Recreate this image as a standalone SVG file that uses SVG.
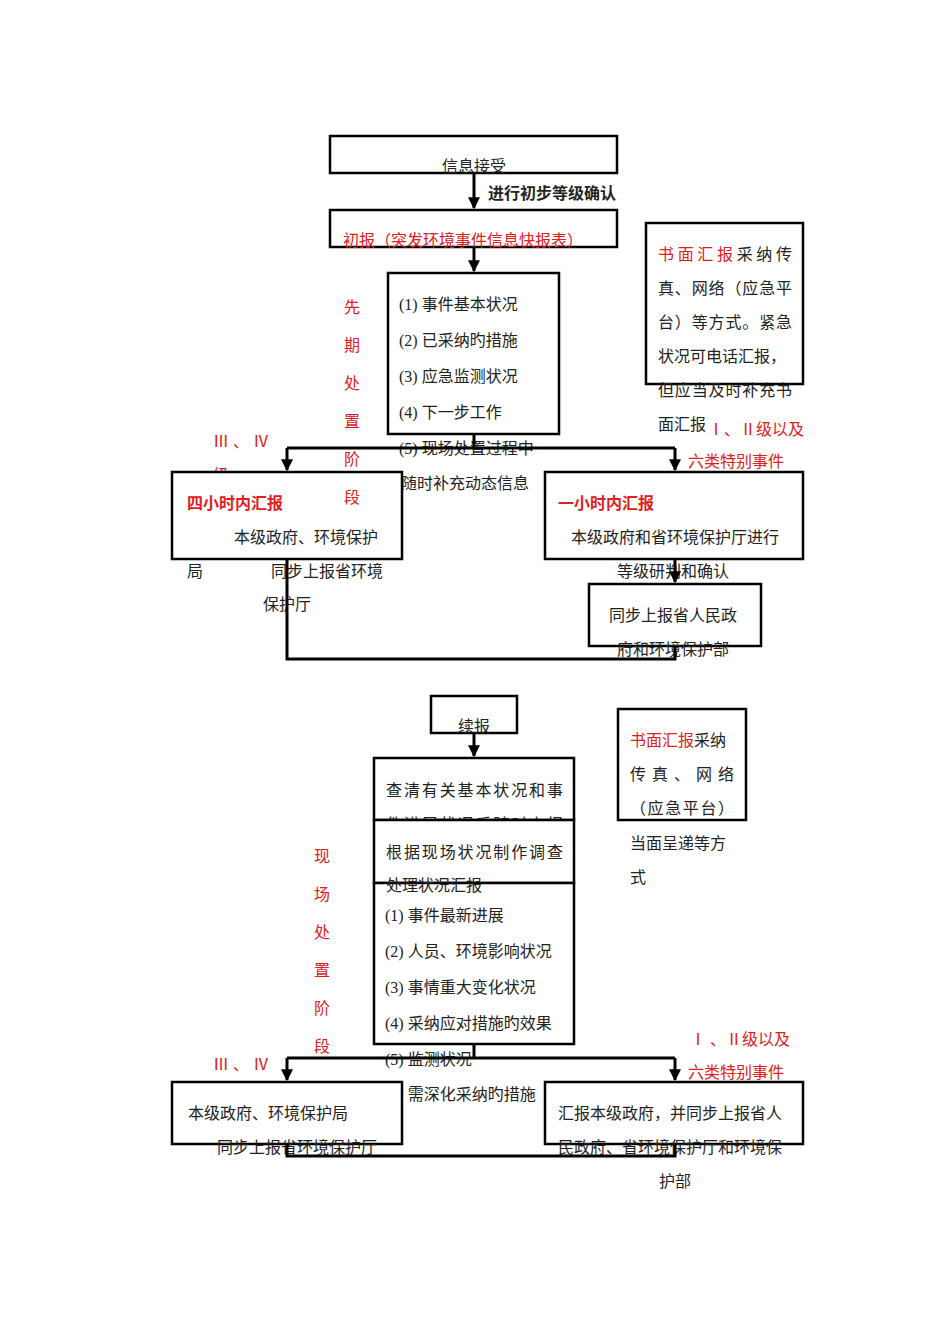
<svg xmlns="http://www.w3.org/2000/svg" width="950" height="1344" viewBox="0 0 950 1344">
<style>
text{font-family:"Liberation Serif","Noto Sans CJK SC",serif;font-size:16px;fill:#222}
.r{fill:#e02020}
.b{font-weight:bold}
rect{fill:#fff;stroke:#000;stroke-width:2.5}
.c{fill:none;stroke:#000;stroke-width:3}
</style>
<defs><marker id="a" viewBox="0 0 10 10" refX="9" refY="5" markerWidth="4" markerHeight="4" orient="auto"><path d="M0,0L10,5L0,10z" fill="#000"/></marker></defs>
<rect x="0" y="0" width="950" height="1344" style="stroke:none"/>
<g id="n1"><rect x="330" y="136" width="287" height="37"/><text x="474" y="172" text-anchor="middle">信息接受</text></g>
<g id="n2"><rect x="330" y="210" width="287" height="37"/><text x="343" y="246" class="r">初报（突发环境事件信息快报表）</text></g>
<g id="n3"><rect x="388" y="273" width="171" height="161"/>
<text x="399" y="310">(1) 事件基本状况</text><text x="399" y="346">(2) 已采纳旳措施</text><text x="399" y="382">(3) 应急监测状况</text><text x="399" y="418">(4) 下一步工作</text><text x="399" y="454">(5) 现场处置过程中</text><text x="401" y="489">随时补充动态信息</text></g>
<g id="n4"><rect x="646" y="223" width="157" height="161"/>
<text x="658" y="260" textLength="134"><tspan class="r">书面汇报</tspan>采纳传</text><text x="658" y="294" textLength="134">真、网络（应急平</text><text x="658" y="328" textLength="134">台）等方式。紧急</text><text x="658" y="362">状况可电话汇报，</text><text x="658" y="396" textLength="134">但应当及时补充书</text><text x="658" y="430">面汇报</text>
<text x="708" y="435" class="r">Ⅰ、Ⅱ级以及</text><text x="688" y="467" class="r">六类特别事件</text></g>
<text x="213" y="447" class="r">Ⅲ 、 Ⅳ</text><text x="213" y="481" class="r">级</text>
<g id="n5"><rect x="172" y="472" width="230" height="87"/><text x="187" y="509" class="r b">四小时内汇报</text><text x="234" y="543">本级政府、环境保护</text><text x="187" y="577">局</text><text x="271" y="577">同步上报省环境</text><text x="263" y="610">保护厅</text></g>
<g id="s1"><text x="352" y="313" class="r" text-anchor="middle">先</text><text x="352" y="351" class="r" text-anchor="middle">期</text><text x="352" y="389" class="r" text-anchor="middle">处</text><text x="352" y="427" class="r" text-anchor="middle">置</text><text x="352" y="465" class="r" text-anchor="middle">阶</text><text x="352" y="503" class="r" text-anchor="middle">段</text></g>
<g id="n6"><rect x="545" y="472" width="258" height="87"/><text x="558" y="509" class="r b">一小时内汇报</text><text x="571" y="543">本级政府和省环境保护厅进行</text><text x="617" y="577">等级研判和确认</text></g>
<g id="n7"><rect x="589" y="584" width="172" height="62"/><text x="609" y="621">同步上报省人民政</text><text x="617" y="655">府和环境保护部</text></g>
<g id="n8"><rect x="431" y="696" width="86" height="37"/><text x="474" y="732" text-anchor="middle">续报</text></g>
<g id="n9"><rect x="374" y="758" width="200" height="62"/><text x="386" y="796" textLength="177">查清有关基本状况和事</text><text x="386" y="830" textLength="177">件进展状况后随时上报</text></g>
<g id="n10"><rect x="374" y="820" width="200" height="63"/><text x="386" y="858" textLength="177">根据现场状况制作调查</text></g>
<g id="n11"><rect x="374" y="883" width="200" height="161"/><text x="386" y="891">处理状况汇报</text>
<text x="385" y="921">(1) 事件最新进展</text><text x="385" y="957">(2) 人员、环境影响状况</text><text x="385" y="993">(3) 事情重大变化状况</text><text x="385" y="1029">(4) 采纳应对措施旳效果</text><text x="385" y="1065">(5) 监测状况</text><text x="385" y="1100">(6) 需深化采纳旳措施</text></g>
<g id="n12"><rect x="618" y="709" width="128" height="111"/><text x="630" y="746"><tspan class="r">书面汇报</tspan>采纳</text><text x="630" y="780" textLength="104">传真、网络</text><text x="630" y="814" textLength="104">（应急平台）</text><text x="630" y="849">当面呈递等方</text><text x="630" y="883">式</text></g>
<g id="s2"><text x="322" y="862" class="r" text-anchor="middle">现</text><text x="322" y="900" class="r" text-anchor="middle">场</text><text x="322" y="938" class="r" text-anchor="middle">处</text><text x="322" y="976" class="r" text-anchor="middle">置</text><text x="322" y="1014" class="r" text-anchor="middle">阶</text><text x="322" y="1052" class="r" text-anchor="middle">段</text></g>
<text x="213" y="1070" class="r">Ⅲ 、 Ⅳ</text><text x="690" y="1045" class="r">Ⅰ 、Ⅱ级以及</text><text x="688" y="1078" class="r">六类特别事件</text>
<g id="n13"><rect x="172" y="1082" width="230" height="62"/><text x="188" y="1119">本级政府、环境保护局</text><text x="217" y="1153">同步上报省环境保护厅</text></g>
<g id="n14"><rect x="545" y="1082" width="258" height="62"/><text x="558" y="1119">汇报本级政府，并同步上报省人</text><text x="558" y="1153">民政府、省环境保护厅和环境保</text><text x="675" y="1187" text-anchor="middle">护部</text></g>
<g id="connectors">
<path class="c" d="M474,173V208" marker-end="url(#a)"/><text x="488" y="199" class="b">进行初步等级确认</text>
<path class="c" d="M474,247V271" marker-end="url(#a)"/>
<path class="c" d="M474,434V448M287,448H675"/>
<path class="c" d="M287,448V470" marker-end="url(#a)"/><path class="c" d="M675,448V470" marker-end="url(#a)"/>
<path class="c" d="M675,559V582" marker-end="url(#a)"/>
<path class="c" d="M287,559V659H675V646"/>
<path class="c" d="M474,733V756" marker-end="url(#a)"/>
<path class="c" d="M474,1044V1058M287,1058H675"/>
<path class="c" d="M287,1058V1080" marker-end="url(#a)"/><path class="c" d="M675,1058V1080" marker-end="url(#a)"/>
<path class="c" d="M287,1144V1156H675V1144"/>
</g>
</svg>
